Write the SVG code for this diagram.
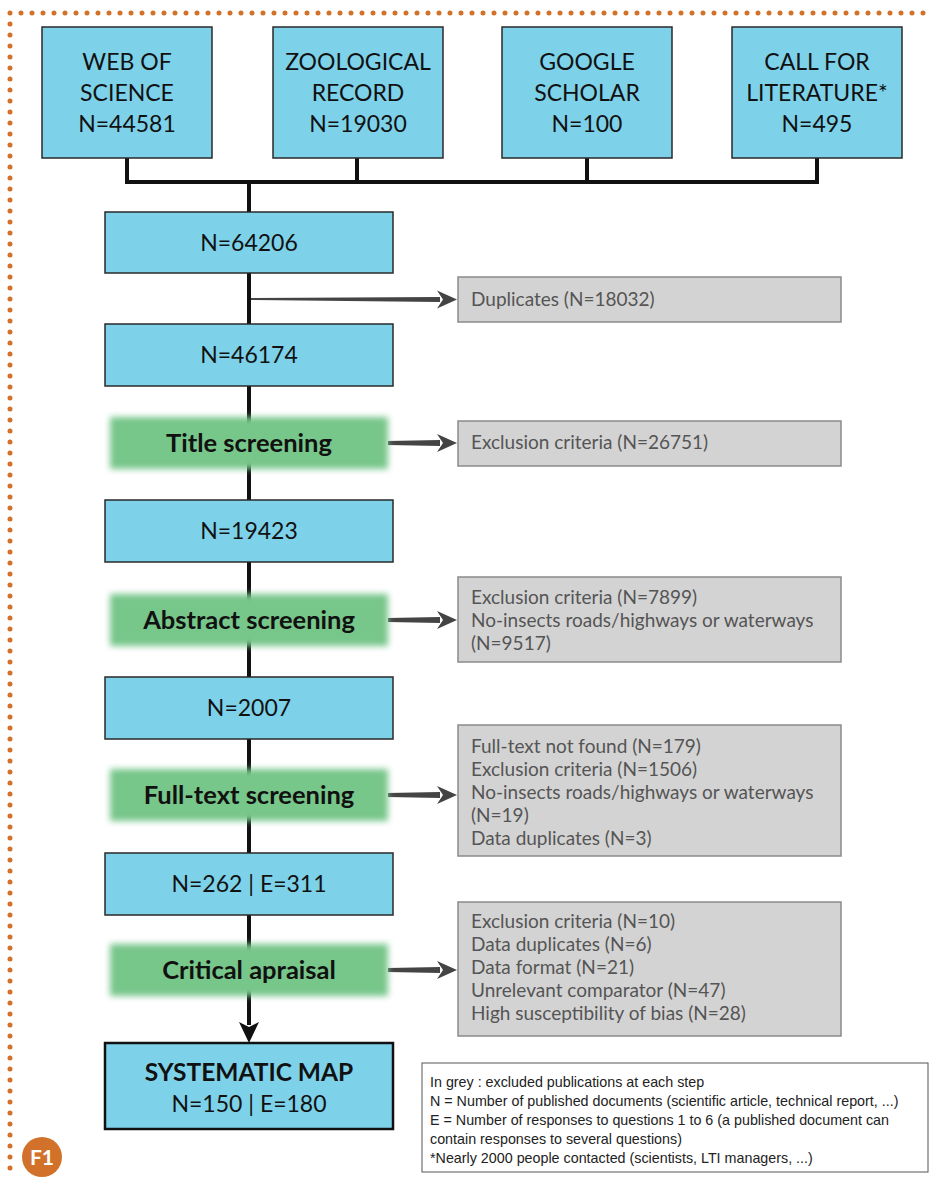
<svg xmlns="http://www.w3.org/2000/svg" width="930" height="1177" viewBox="0 0 930 1177">
<style>
.blue{fill:#7DD2EA;stroke:#2a2a2a;stroke-width:1.5}
.grey{fill:#D3D3D3;stroke:#8a8a8a;stroke-width:1.5}
.bt{font-family:Lato,"Open Sans",sans-serif;font-size:23px;fill:#111;text-anchor:middle}
.gt{font-family:Lato,"Open Sans",sans-serif;font-size:19px;fill:#555}
.st{font-family:Lato,"Open Sans",sans-serif;font-size:25.5px;font-weight:bold;fill:#111;text-anchor:middle}
.lt{font-family:"Liberation Sans",Arial,sans-serif;font-size:14.3px;fill:#222}
.dot{fill:none;stroke:#D2722A;stroke-width:5;stroke-linecap:round;stroke-dasharray:0 11}
.arr{fill:#444}
</style>
<defs>
<filter id="blur" x="-10%" y="-30%" width="120%" height="160%"><feGaussianBlur stdDeviation="3"/></filter>
<path id="ah" d="M0,0 L-20,-9 L-14,0 L-20,9 Z"/>
</defs>
<rect width="930" height="1177" fill="#fff"/>
<g id="border">
<path class="dot" d="M10,13 H930"/>
<path class="dot" d="M10,24 V1177"/>
</g>
<g id="connectors">
<path d="M127,158 V182 M357,158 V182 M587,158 V182 M817,158 V182 M125,182 H819 M249,182 V212" stroke="#111" stroke-width="4" fill="none"/>
<path d="M249,273 V1025" stroke="#111" stroke-width="4" fill="none"/>
<path d="M239,1022 L249,1043 L259,1022 L249,1027 Z" fill="#111"/>
<polygon class="arr" points="251,298 440,297 440,302 251,300"/>
<use href="#ah" x="457" y="299.5" class="arr"/>
<polygon class="arr" points="388,441 440,440 440,446 388,445"/>
<use href="#ah" x="457" y="443" class="arr"/>
<polygon class="arr" points="388,618 440,617 440,623 388,622"/>
<use href="#ah" x="457" y="620" class="arr"/>
<polygon class="arr" points="388,793 440,792 440,798 388,797"/>
<use href="#ah" x="457" y="795" class="arr"/>
<polygon class="arr" points="388,968 440,967 440,973 388,972"/>
<use href="#ah" x="457" y="970" class="arr"/>
</g>
<g id="wos"><rect class="blue" x="42" y="27" width="170" height="131"/>
<text class="bt" x="127" y="70">WEB OF</text><text class="bt" x="127" y="101">SCIENCE</text><text class="bt" x="127" y="132">N=44581</text></g>
<g id="zr"><rect class="blue" x="273" y="27" width="170" height="131"/>
<text class="bt" x="358" y="70">ZOOLOGICAL</text><text class="bt" x="358" y="101">RECORD</text><text class="bt" x="358" y="132">N=19030</text></g>
<g id="gs"><rect class="blue" x="502" y="27" width="170" height="131"/>
<text class="bt" x="587" y="70">GOOGLE</text><text class="bt" x="587" y="101">SCHOLAR</text><text class="bt" x="587" y="132">N=100</text></g>
<g id="cfl"><rect class="blue" x="732" y="27" width="170" height="131"/>
<text class="bt" x="817" y="70">CALL FOR</text><text class="bt" x="817" y="101">LITERATURE*</text><text class="bt" x="817" y="132">N=495</text></g>
<g id="n64206"><rect class="blue" x="105" y="212" width="288" height="61"/><text class="bt" x="249" y="251">N=64206</text></g>
<g id="dup"><rect class="grey" x="458" y="277" width="383" height="45"/><text class="gt" x="471" y="306">Duplicates (N=18032)</text></g>
<g id="n46174"><rect class="blue" x="105" y="324" width="288" height="62"/><text class="bt" x="249" y="363">N=46174</text></g>
<g id="title"><rect x="110" y="417" width="278" height="52" fill="#77C68A" filter="url(#blur)"/><text class="st" x="249" y="452">Title screening</text></g>
<g id="ex1"><rect class="grey" x="458" y="421" width="383" height="45"/><text class="gt" x="471" y="449">Exclusion criteria (N=26751)</text></g>
<g id="n19423"><rect class="blue" x="105" y="500" width="288" height="62"/><text class="bt" x="249" y="539">N=19423</text></g>
<g id="abstract"><rect x="110" y="594" width="278" height="52" fill="#77C68A" filter="url(#blur)"/><text class="st" x="249" y="629">Abstract screening</text></g>
<g id="ex2"><rect class="grey" x="458" y="577" width="383" height="85"/>
<text class="gt" x="471" y="604">Exclusion criteria (N=7899)</text><text class="gt" x="471" y="627">No-insects roads/highways or waterways</text><text class="gt" x="471" y="650">(N=9517)</text></g>
<g id="n2007"><rect class="blue" x="105" y="677" width="288" height="62"/><text class="bt" x="249" y="716">N=2007</text></g>
<g id="fulltext"><rect x="110" y="769" width="278" height="52" fill="#77C68A" filter="url(#blur)"/><text class="st" x="249" y="804">Full-text screening</text></g>
<g id="ex3"><rect class="grey" x="458" y="725" width="383" height="131"/>
<text class="gt" x="471" y="753">Full-text not found (N=179)</text><text class="gt" x="471" y="776">Exclusion criteria (N=1506)</text><text class="gt" x="471" y="799">No-insects roads/highways or waterways</text><text class="gt" x="471" y="822">(N=19)</text><text class="gt" x="471" y="845">Data duplicates (N=3)</text></g>
<g id="n262"><rect class="blue" x="105" y="853" width="288" height="62"/><text class="bt" x="249" y="892">N=262 | E=311</text></g>
<g id="critical"><rect x="110" y="944" width="278" height="52" fill="#77C68A" filter="url(#blur)"/><text class="st" x="249" y="979">Critical apraisal</text></g>
<g id="ex4"><rect class="grey" x="458" y="902" width="383" height="134"/>
<text class="gt" x="471" y="928">Exclusion criteria (N=10)</text><text class="gt" x="471" y="951">Data duplicates (N=6)</text><text class="gt" x="471" y="974">Data format (N=21)</text><text class="gt" x="471" y="997">Unrelevant comparator (N=47)</text><text class="gt" x="471" y="1020">High susceptibility of bias (N=28)</text></g>
<g id="sysmap"><rect x="105" y="1043" width="288" height="86" fill="#7DD2EA" stroke="#111" stroke-width="2.5"/>
<text class="st" x="249" y="1081" style="font-size:24.5px">SYSTEMATIC MAP</text><text class="bt" x="249" y="1112">N=150 | E=180</text></g>
<g id="legend"><rect x="422" y="1063" width="506" height="109" fill="#fff" stroke="#555" stroke-width="1"/>
<text class="lt" x="430" y="1087">In grey : excluded publications at each step</text>
<text class="lt" x="430" y="1106">N = Number of published documents (scientific article, technical report, ...)</text>
<text class="lt" x="430" y="1125">E = Number of responses to questions 1 to 6 (a published document can</text>
<text class="lt" x="430" y="1144">contain responses to several questions)</text>
<text class="lt" x="430" y="1163">*Nearly 2000 people contacted (scientists, LTI managers, ...)</text></g>
<g id="badge"><circle cx="42" cy="1157" r="20" fill="#D2722A"/><text x="42" y="1165" font-family="Lato,'Open Sans',sans-serif" font-weight="bold" font-size="21" fill="#fff" text-anchor="middle">F1</text></g>
</svg>
